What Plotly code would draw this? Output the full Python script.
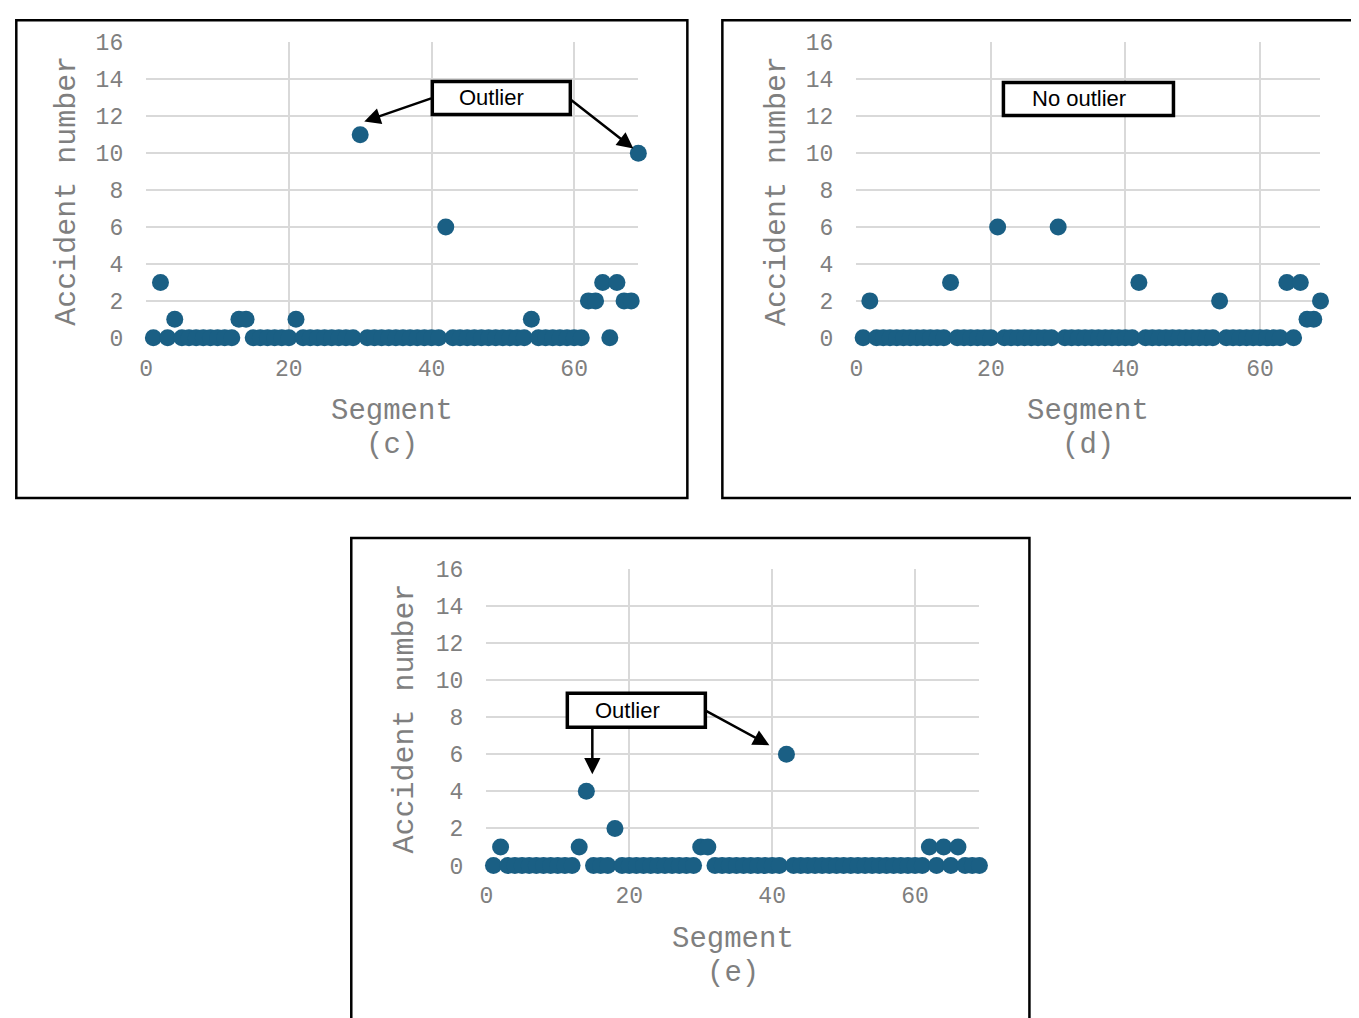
import plotly.graph_objects as go

# ---------------- data ----------------
segments = list(range(1, 70))

# panel (c)
acc_c = [0, 3, 0, 1, 0, 0, 0, 0, 0, 0, 0, 0, 1, 1, 0, 0, 0, 0, 0, 0,
         1, 0, 0, 0, 0, 0, 0, 0, 0, 11, 0, 0, 0, 0, 0, 0, 0, 0, 0, 0,
         0, 6, 0, 0, 0, 0, 0, 0, 0, 0, 0, 0, 0, 1, 0, 0, 0, 0, 0, 0,
         0, 2, 2, 3, 0, 3, 2, 2, 10]
# panel (d)
acc_d = [0, 2, 0, 0, 0, 0, 0, 0, 0, 0, 0, 0, 0, 3, 0, 0, 0, 0, 0, 0,
         6, 0, 0, 0, 0, 0, 0, 0, 0, 6, 0, 0, 0, 0, 0, 0, 0, 0, 0, 0,
         0, 3, 0, 0, 0, 0, 0, 0, 0, 0, 0, 0, 0, 2, 0, 0, 0, 0, 0, 0,
         0, 0, 0, 3, 0, 3, 1, 1, 2]
# panel (e)
acc_e = [0, 1, 0, 0, 0, 0, 0, 0, 0, 0, 0, 0, 1, 4, 0, 0, 0, 2, 0, 0,
         0, 0, 0, 0, 0, 0, 0, 0, 0, 1, 1, 0, 0, 0, 0, 0, 0, 0, 0, 0,
         0, 6, 0, 0, 0, 0, 0, 0, 0, 0, 0, 0, 0, 0, 0, 0, 0, 0, 0, 0,
         0, 1, 0, 1, 0, 1, 0, 0, 0]

x_ticks = [0, 20, 40, 60]
y_ticks = [0, 2, 4, 6, 8, 10, 12, 14, 16]
panel_labels = ["(c)", "(d)", "(e)"]
box_texts = ["Outlier", "No outlier", "Outlier"]

# ---------------- layout helpers ----------------
W, H = 1352, 1028
# map target screen pixels to figure pixels
def fxp(x):
    return (x - 14.8) / 0.9946
def fyp(y):
    return (y - 18.6) / 0.9735
def px(x):
    return fxp(x) / W
def py(y):
    return 1 - fyp(y) / H
def clamp_x(v):
    return min(max(v, 1.3 / W), 1 - 1.3 / W)
def clamp_y(v):
    return min(max(v, 1.3 / H), 1 - 1.3 / H)

MONO = "Courier New, Liberation Mono, monospace"
SANS = "Arial, Liberation Sans, sans-serif"
TICK_COLOR = "#7f7f7f"
GRID = "#d9d9d9"
MARK = "#1a5f84"

fig = go.Figure()

panels = [
    (acc_c, (146, 638), (42, 337)),
    (acc_d, (856, 1320), (42, 337)),
    (acc_e, (486, 979), (568, 864)),
]

for i, (vals, (x0, x1), (y0, y1)) in enumerate(panels):
    n = "" if i == 0 else str(i + 1)
    fig.add_trace(go.Scatter(
        x=segments, y=vals, mode="markers",
        marker=dict(size=17, color=MARK, line=dict(width=0)),
        cliponaxis=False, showlegend=False, hoverinfo="x+y",
        xaxis="x" + n, yaxis="y" + n,
    ))
    common = dict(showgrid=True, gridcolor=GRID, gridwidth=1.5,
                  zeroline=False, showline=False, ticks="",
                  tickfont=dict(family=MONO, size=23, color=TICK_COLOR),
                  fixedrange=True)
    fig.layout["xaxis" + n] = dict(
        domain=[px(x0), px(x1)], range=[0, 69], tickvals=x_ticks,
        anchor="y" + n, ticklabelstandoff=14, **common)
    fig.layout["yaxis" + n] = dict(
        domain=[py(y1), py(y0)], range=[0, 16], tickvals=y_ticks,
        anchor="x" + n, ticklabelstandoff=22, **common)

annotations = []
shapes = []

# panel borders
for (a, b, c, d) in [(10, 10, 687, 497), (722, 10, 1366, 497), (351, 537, 1029, 1030)]:
    shapes.append(dict(type="rect", xref="paper", yref="paper",
                       x0=clamp_x(px(a)), x1=clamp_x(px(c)) if c < 1359 else px(c),
                       y0=py(d) if d > 1018 else clamp_y(py(d)), y1=clamp_y(py(b)),
                       line=dict(color="black", width=2.5), layer="below"))

# axis titles
title_font = dict(family=MONO, size=29, color=TICK_COLOR)
for (tx, ty, sx, sy, lab) in [(66, 190, 392, 411, panel_labels[0]),
                              (776, 190, 1088, 411, panel_labels[1]),
                              (405, 717, 733, 938, panel_labels[2])]:
    annotations.append(dict(text="Accident number", x=px(tx), y=py(ty),
                            xref="paper", yref="paper", showarrow=False,
                            textangle=-90, font=dict(family=MONO, size=30, color=TICK_COLOR),
                            xanchor="center", yanchor="middle"))
    annotations.append(dict(text="Segment", x=px(sx), y=py(sy),
                            xref="paper", yref="paper", showarrow=False,
                            font=title_font, xanchor="center", yanchor="middle"))
    annotations.append(dict(text=lab, x=px(sx), y=py(sy + 34),
                            xref="paper", yref="paper", showarrow=False,
                            font=title_font, xanchor="center", yanchor="middle"))

# callout boxes
boxes = [((432, 81, 570, 114), (491, 97), box_texts[0]),
         ((1003, 82, 1173, 115), (1079, 98), box_texts[1]),
         ((567, 692, 705, 726), (627, 709), box_texts[2])]
for (a, b, c, d), (tx, ty), txt in boxes:
    shapes.append(dict(type="rect", xref="paper", yref="paper",
                       x0=px(a), x1=px(c), y0=py(d), y1=py(b),
                       fillcolor="white", line=dict(color="black", width=3.5),
                       layer="above"))
    annotations.append(dict(text=txt, x=px(tx), y=py(ty), xref="paper", yref="paper",
                            showarrow=False, xanchor="center", yanchor="middle",
                            font=dict(family=SANS, size=22, color="black")))

# arrows (head position, tail position) in target screen pixels
arrows = [((364, 121), (432, 98)),
          ((633, 148), (569, 99)),
          ((592, 773), (592, 726)),
          ((769, 744), (705, 710))]
for (hx, hy), (tx, ty) in arrows:
    annotations.append(dict(text="", x=px(hx), y=py(hy), xref="paper", yref="paper",
                            showarrow=True, ax=fxp(tx) - fxp(hx), ay=fyp(ty) - fyp(hy),
                            arrowhead=2, arrowsize=1.3, arrowwidth=2.5,
                            arrowcolor="black", standoff=0, startstandoff=0))

fig.update_layout(
    width=W, height=H, autosize=False,
    margin=dict(l=0, r=0, t=0, b=0),
    paper_bgcolor="white", plot_bgcolor="white",
    annotations=annotations, shapes=shapes,
    showlegend=False,
)

fig.write_html("out.html", config={"displayModeBar": False})
